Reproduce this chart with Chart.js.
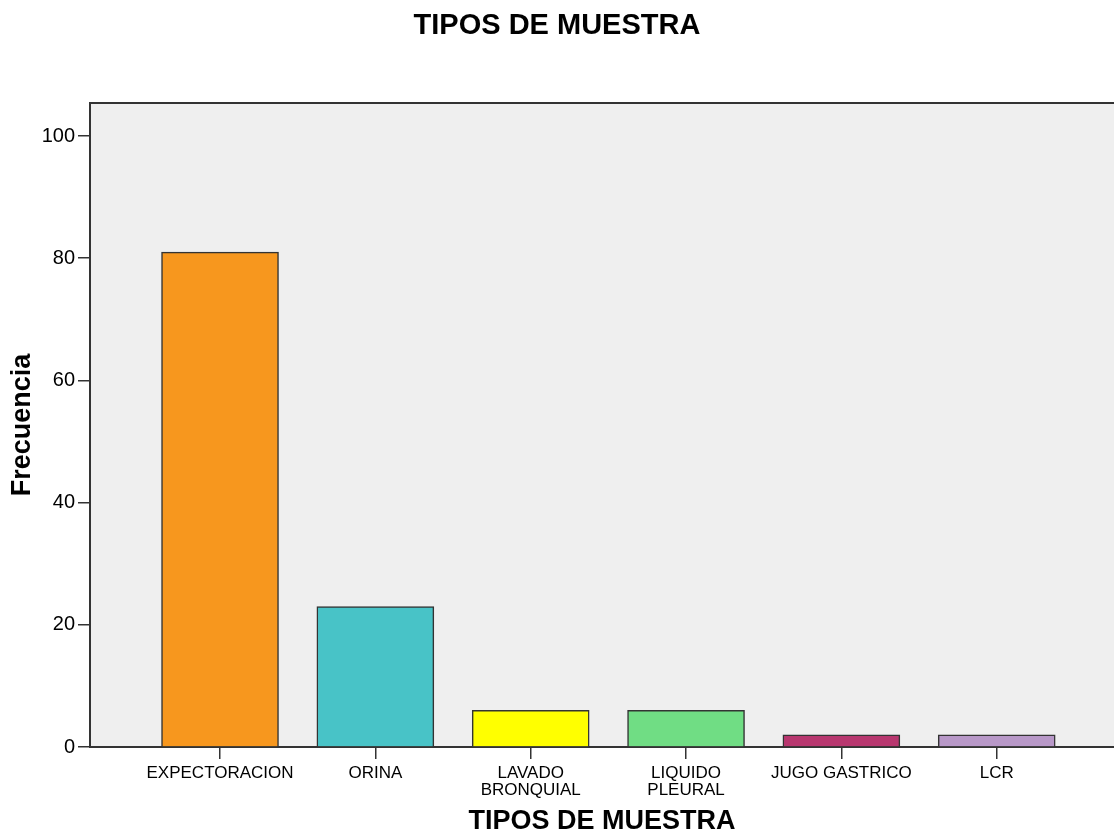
<!DOCTYPE html>
<html>
<head>
<meta charset="utf-8">
<title>Tipos de muestra</title>
<script src="https://cdn.jsdelivr.net/npm/chart.js@4.4.1/dist/chart.umd.min.js"></script>
<style>
  body { margin: 0; background: #fff; }
</style>
</head>
<body>
<canvas id="muestraChart" width="1114" height="832"></canvas>
<script>
// Datos del grafico
var categorias = ['EXPECTORACION', 'ORINA', ['LAVADO', 'BRONQUIAL'], ['LIQUIDO', 'PLEURAL'], 'JUGO GASTRICO', 'LCR'];
var frecuencias = [81, 23, 6, 6, 2, 2];
var colores = ['#F7971E', '#48C3C7', '#FFFF00', '#70DD84', '#B8376F', '#B898C8'];
var ticksY = [0, 20, 40, 60, 80, 100];

// cada barra en su posicion 0..5 del eje x
var puntos = frecuencias.map(function (v, i) { return { x: i, y: v }; });

Chart.defaults.font.family = '"Liberation Sans", Arial, sans-serif';
Chart.defaults.color = '#000';

// Fondo gris del area de grafico y linea superior
var fondoPlot = {
    id: 'fondoPlot',
    beforeDraw: function (chart) {
        var a = chart.chartArea, ctx = chart.ctx;
        ctx.save();
        ctx.fillStyle = '#EFEFEF';
        ctx.fillRect(a.left, a.top, a.right - a.left, a.bottom - a.top);
        ctx.restore();
    },
    afterDraw: function (chart) {
        var a = chart.chartArea, ctx = chart.ctx;
        ctx.save();
        ctx.strokeStyle = '#333';
        ctx.lineWidth = 2;
        ctx.beginPath();
        ctx.moveTo(a.left, a.top);
        ctx.lineTo(a.right, a.top);
        ctx.stroke();
        ctx.restore();
    }
};

var muestraChart = new Chart(document.getElementById('muestraChart'), {
    type: 'bar',
    data: {
        datasets: [{
            data: puntos,
            backgroundColor: colores,
            borderColor: '#333',
            borderWidth: 1.5,
            barThickness: 117
        }]
    },
    options: {
        responsive: false,
        animation: false,
        layout: { padding: 0 },
        plugins: {
            legend: { display: false },
            tooltip: { enabled: false },
            title: {
                display: true,
                text: 'TIPOS DE MUESTRA',
                color: '#000',
                font: { size: 29, weight: 'bold' },
                padding: { top: 9, bottom: 59.2 }
            }
        },
        scales: {
            x: {
                type: 'linear',
                offset: false,
                min: -0.837,
                max: 5.755,
                afterBuildTicks: function (s) {
                    s.ticks = categorias.map(function (c, i) { return { value: i }; });
                },
                afterFit: function (s) {
                    s.height = 85;
                    s.paddingLeft = 0;
                    s.paddingRight = 0;
                },
                ticks: {
                    callback: function (v) { return categorias[v]; },
                    font: { size: 17, lineHeight: 1 },
                    color: '#000',
                    padding: 6,
                    maxRotation: 0,
                    autoSkip: false
                },
                grid: { offset: false, drawOnChartArea: false, tickLength: 12, color: '#333', lineWidth: 1.5 },
                border: { color: '#333', width: 2 },
                title: {
                    display: true,
                    text: 'TIPOS DE MUESTRA',
                    color: '#000',
                    font: { size: 27, weight: 'bold', lineHeight: 0.8 },
                    padding: 0
                }
            },
            y: {
                min: 0,
                max: 105.4,
                afterBuildTicks: function (s) {
                    s.ticks = ticksY.map(function (v) { return { value: v }; });
                },
                afterFit: function (s) {
                    s.width = 90;
                    s.paddingTop = 0;
                    s.paddingBottom = 0;
                },
                ticks: { font: { size: 20 }, color: '#000', padding: 3 },
                grid: { drawOnChartArea: false, tickLength: 12, color: '#333', lineWidth: 1.5 },
                border: { color: '#333', width: 2 },
                title: {
                    display: true,
                    text: 'Frecuencia',
                    color: '#000',
                    font: { size: 27, weight: 'bold', lineHeight: 1 },
                    padding: { top: 9.5 }
                }
            }
        }
    },
    plugins: [fondoPlot]
});
</script>
</body>
</html>
